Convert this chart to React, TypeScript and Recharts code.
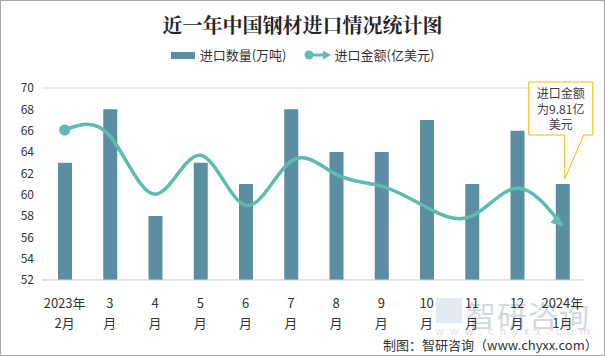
import React from "react";
import { Bar, ComposedChart, LabelList, Line, XAxis, YAxis, CartesianGrid } from "recharts";

const monthTop = ["2023年", "3", "4", "5", "6", "7", "8", "9", "10", "11", "12", "2024年"];
const monthBottom = ["2月", "月", "月", "月", "月", "月", "月", "月", "月", "月", "月", "1月"];
const importQty = [63, 68, 58, 63, 61, 68, 64, 64, 67, 61, 66, 61];
const importAmount = [13.0, 12.8, 10.86, 12.16, 10.49, 11.96, 11.52, 11.13, 10.42, 10.13, 11.06, 9.81];
const qtyTicks = [52, 54, 56, 58, 60, 62, 64, 66, 68, 70];

const BAR = "#5b8ea3";
const LINE = "#5dbbb0";
const FONT = '"Noto Sans CJK SC", "Noto Sans", sans-serif';

const data = monthTop.map((m, i) => ({
  key: m + monthBottom[i] + i,
  idx: i,
  qty: importQty[i],
  amount: importAmount[i],
}));

function MonthTick(props: any) {
  const { x, y, payload } = props;
  const i = payload.value as number;
  return (
    <g>
      <text x={x} y={y + 20} textAnchor="middle" fontSize={13} fill="#333" fontFamily={FONT}>
        {monthTop[i]}
      </text>
      <text x={x} y={y + 40} textAnchor="middle" fontSize={13} fill="#333" fontFamily={FONT}>
        {monthBottom[i]}
      </text>
    </g>
  );
}

function renderDot(props: any) {
  const { cx, cy, index } = props;
  if (index === 0) return <circle key="d0" cx={cx} cy={cy} r={5.5} fill={LINE} />;
  if (index === data.length - 1)
    return (
      <path
        key="dn"
        d="M1,0 L-11,-6 L-11,6 Z"
        transform={`translate(${cx},${cy}) rotate(42)`}
        fill={LINE}
      />
    );
  return <g key={"d" + index} />;
}

function Callout(props: any) {
  const { x, y, width, index } = props;
  if (index !== data.length - 1) return null;
  const tipX = x + width / 2 + 2;
  const tipY = y - 5;
  const bx = tipX - 36;
  const by = tipY - 97;
  const bw = 64;
  const bh = 53;
  const cx = bx + bw / 2;
  return (
    <g>
      <path
        d={`M${bx},${by} H${bx + bw} V${by + bh} H${tipX + 19} L${tipX},${tipY} L${tipX},${by + bh} H${bx} Z`}
        fill="#fff"
        stroke="#f5b800"
        strokeWidth={1}
      />
      <text x={cx} y={by + 16} textAnchor="middle" fontSize={12} fill="#404040" fontFamily={FONT}>
        进口金额
      </text>
      <text x={cx} y={by + 32} textAnchor="middle" fontSize={12} fill="#404040" fontFamily={FONT}>
        为9.81亿
      </text>
      <text x={cx} y={by + 47} textAnchor="middle" fontSize={12} fill="#404040" fontFamily={FONT}>
        美元
      </text>
    </g>
  );
}

export default function App() {
  return (
    <div
      style={{
        position: "absolute",
        left: 0,
        top: 0,
        width: 605,
        height: 356,
        boxSizing: "border-box",
        border: "1px solid #a6a6a6",
        background: "#fff",
        fontFamily: FONT,
        overflow: "hidden",
      }}
    >
      <div
        style={{
          position: "absolute",
          top: 9,
          width: "100%",
          textAlign: "center",
          fontSize: 20,
          fontWeight: 700,
          color: "#262626",
          fontFamily: '"Noto Serif CJK SC", "Noto Sans CJK SC", serif',
        }}
      >
        近一年中国钢材进口情况统计图
      </div>
      <div
        style={{
          position: "absolute",
          left: 0,
          top: 44,
          width: 603,
          display: "flex",
          justifyContent: "center",
          alignItems: "center",
          fontSize: 13,
          color: "#333",
        }}
      >
        <svg width={24} height={10} style={{ marginRight: 5 }}>
          <rect x={0} y={2} width={24} height={7} fill={BAR} />
        </svg>
        <span>进口数量(万吨)</span>
        <svg width={27} height={12} style={{ marginLeft: 17, marginRight: 4 }}>
          <circle cx={5} cy={6} r={4.5} fill={LINE} />
          <line x1={5} y1={6} x2={20} y2={6} stroke={LINE} strokeWidth={3} />
          <path d="M27,6 L19,1.5 L19,10.5 Z" fill={LINE} />
        </svg>
        <span>进口金额(亿美元)</span>
      </div>
      <div style={{ position: "absolute", left: 465, top: 291, color: "#d3d9e0", fontSize: 30, letterSpacing: 1 }}>
        智研咨询
      </div>
      <div style={{ position: "absolute", left: 434, top: 321, color: "#d8dee5", fontSize: 11, letterSpacing: 6 }}>
        www.chyxx.com
      </div>
      <div style={{ position: "absolute", left: 435, top: 297, width: 26, height: 25, background: "#dde5ee", opacity: 0.8 }} />
      <ComposedChart
        width={603}
        height={354}
        data={data}
        margin={{ top: 87, right: 19, bottom: 35, left: -1 }}
        style={{ position: "absolute", left: 0, top: 0 }}
      >
        <CartesianGrid vertical={false} stroke="#d9d9d9" />
        <XAxis
          dataKey="idx"
          tick={<MonthTick />}
          tickLine={false}
          axisLine={{ stroke: "#d9d9d9" }}
          interval={0}
          height={40}
        />
        <YAxis
          yAxisId="left"
          domain={[52, 70]}
          ticks={qtyTicks}
          interval={0}
          tick={{ fontSize: 12, fill: "#333", fontFamily: FONT }}
          tickLine={false}
          axisLine={false}
          width={42}
        />
        <YAxis yAxisId="right" orientation="right" domain={[8, 14.4]} hide />
        <Bar yAxisId="left" dataKey="qty" fill={BAR} barSize={14} isAnimationActive={false}>
          <LabelList dataKey="qty" content={<Callout />} />
        </Bar>
        <Line
          yAxisId="right"
          dataKey="amount"
          type="natural"
          stroke={LINE}
          strokeWidth={3.5}
          dot={renderDot}
          activeDot={false}
          isAnimationActive={false}
        />
      </ComposedChart>
      <div style={{ position: "absolute", left: 382, top: 334, fontSize: 13, color: "#333" }}>
        制图：智研咨询（www.chyxx.com）
      </div>
    </div>
  );
}
